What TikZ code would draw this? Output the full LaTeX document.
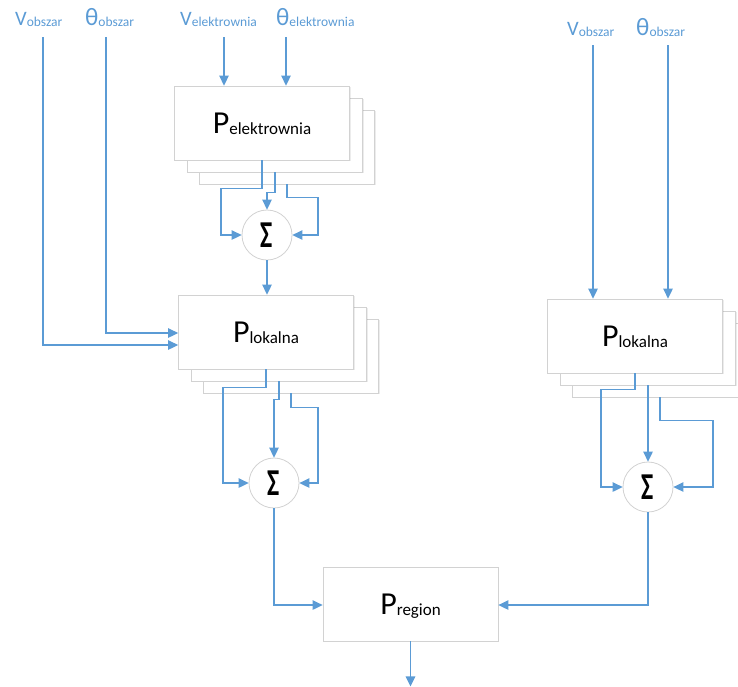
\documentclass[tikz,border=0pt]{standalone}
\usepackage{fontspec}
\setmainfont{Carlito}
\usetikzlibrary{arrows.meta,calc,shadows}

\definecolor{wire}{HTML}{5B9BD5}
\definecolor{frame}{HTML}{D2D2D2}

% signal labels: large symbol with a smaller index set beside it
\newcommand\siglbl[2]{{\fontsize{20.5}{20.5}\selectfont #1}{\fontsize{13.5}{13.5}\selectfont\raisebox{-1pt}{#2}}}
\newcommand\anglbl[1]{{\fontsize{25}{25}\selectfont θ}{\fontsize{13.5}{13.5}\selectfont\raisebox{-1pt}{#1}}}
% block label: large P with its index
\newcommand\blklbl[2]{{\fontsize{32}{32}\selectfont #1}{\fontsize{17}{17}\selectfont\raisebox{-1pt}{#2}}}
% summing sign
\newcommand\sumsign{\scalebox{0.68}[1]{\fontsize{38}{38}\selectfont\bfseries Σ}}

\tikzset{
  blockbox/.style={draw=frame, fill=white, line width=0.8pt,
    minimum width=175pt, minimum height=74pt, inner sep=0pt,
    text depth=0pt,
    drop shadow={shadow xshift=1.2pt, shadow yshift=-1.2pt, opacity=0.15}},
  sumnode/.style={circle, draw=frame, fill=white, line width=0.8pt,
    minimum size=50pt, inner sep=0pt, text depth=0pt},
  inlabel/.style={text=wire, anchor=base west, inner sep=0pt},
  arr/.style={draw=wire, line width=1.3pt,
    -{Triangle[length=10pt,width=9.5pt]}},
}

\begin{document}
\begin{tikzpicture}[x=1pt, y=-1pt]
\useasboundingbox (0,0) rectangle (738,686);

% input signal labels
\node[inlabel] (lvo)  at (15,25)  {\siglbl{V}{obszar}};
\node[inlabel] (lto)  at (85,25)  {\anglbl{obszar}};
\node[inlabel] (lve)  at (180,25) {\siglbl{V}{elektrownia}};
\node[inlabel] (lte)  at (276,25) {\anglbl{elektrownia}};
\node[inlabel] (lvo2) at (567,35) {\siglbl{V}{obszar}};
\node[inlabel] (lto2) at (636,35) {\anglbl{obszar}};

\coordinate (vo)  at (43,37);
\coordinate (to)  at (106,37);
\coordinate (ve)  at (224,37);
\coordinate (te)  at (286,37);
\coordinate (vo2) at (593,45);
\coordinate (to2) at (668,45);

% power-plant stack
\node[blockbox] (pe3) at (287,147) {};
\node[blockbox] (pe2) at (275,135) {};
\node[blockbox] (pe1) at (262,123) {\blklbl{P}{elektrownia}};

% local stack (left)
\node[blockbox] (pl3) at (291,356) {};
\node[blockbox] (pl2) at (279,344) {};
\node[blockbox] (pl1) at (266,332) {\blklbl{P}{lokalna}};

% local stack (right)
\node[blockbox] (pr3) at (660,360) {};
\node[blockbox] (pr2) at (648,348) {};
\node[blockbox] (pr1) at (635,336) {\blklbl{P}{lokalna}};

% region block
\node[blockbox] (preg) at (410.5,604) {\blklbl{P}{region}};

% summing junctions
\node[sumnode] (s1) at (267,235) {\sumsign};
\node[sumnode] (s2) at (274,483) {\sumsign};
\node[sumnode] (s3) at (648,487) {\sumsign};

% inputs
\draw[arr] (ve) -- (ve |- pe1.north);
\draw[arr] (te) -- (te |- pe1.north);
\draw[arr] (to) |- ($(pl1.west)+(0,1)$);
\draw[arr] (vo) |- ($(pl1.west)+(0,13)$);
\draw[arr] (vo2) -- (vo2 |- pr1.north);
\draw[arr] (to2) -- (to2 |- pr1.north);

% power-plant stack into first sum
\draw[arr] (pe1.south) |- ++(-41,28) |- (s1.west);
\draw[arr] (pe2.south) -- ++(0,20) -| (s1.north);
\draw[arr] (pe3.south) |- ++(31,13) |- (s1.east);
\draw[arr] (s1.south) -- (s1.south |- pl1.north);

% left local stack into second sum
\draw[arr] (pl1.south) |- ++(-43,18) |- (s2.west);
\draw[arr] (pl2.south) -- ++(0,18) -| (s2.north);
\draw[arr] (pl3.south) |- ++(27,14) |- (s2.east);

% right local stack into third sum
\draw[arr] (pr1.south) |- ++(-34,16) |- (s3.west);
\draw[arr] (pr2.south) -- (s3.north);
\draw[arr] (pr3.south) |- ++(53,23) |- (s3.east);

% sums into region block
\draw[arr] (s2.south) |- ($(preg.west)+(0,1)$);
\draw[arr] (s3.south) |- ($(preg.east)+(0,1)$);
\draw[arr] (preg.south) -- ++(0,45);
\end{tikzpicture}
\end{document}
